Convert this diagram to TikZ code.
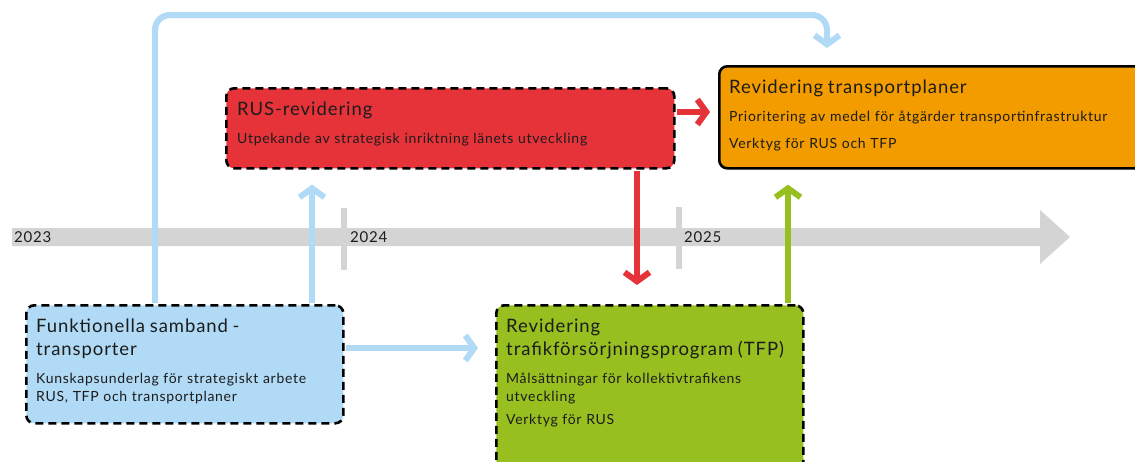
\documentclass[tikz,border=0pt]{standalone}
\usepackage{fontspec}
\setmainfont{Lato}[LetterSpace=5]
\usetikzlibrary{arrows.meta}
\definecolor{lblue}{RGB}{176,218,245}
\definecolor{rusred}{RGB}{230,51,58}
\definecolor{planorange}{RGB}{243,156,0}
\definecolor{tfpgreen}{RGB}{150,191,31}
\definecolor{tlgrey}{RGB}{212,212,212}
\definecolor{darktext}{RGB}{28,28,28}
\newcommand{\boxtitle}[1]{{\fontsize{18.5}{23}\selectfont #1\par}\vspace{10pt}}

\begin{document}
\begin{tikzpicture}[x=1pt,y=-1pt]
\tikzset{box/.style={rectangle, anchor=north west, inner sep=0pt, rounded corners=8pt, line width=2.6pt, draw=black, dash pattern=on 8pt off 5pt}}
\tikzset{boxtext/.style={anchor=base west, align=left, text width=420pt, inner sep=0pt, text=darktext, font=\fontsize{14}{18}\selectfont}}
\tikzset{conn/.style={line width=6pt, shorten <=1pt, -{Straight Barb[length=9pt,width=25pt]}}}
\tikzset{year/.style={anchor=west, inner sep=0pt, text=darktext, font=\fontsize{15}{18}\selectfont}}
\clip (0,0) rectangle (1135,461);
\fill[tlgrey] (12,228) -- (1040,228) -- (1040,210) -- (1070,237) -- (1040,264) -- (1040,246) -- (12,246) -- cycle;
\fill[tlgrey] (341,208) rectangle (347,270);
\fill[tlgrey] (676,207) rectangle (682,269);
\node[year] (y2023) at (14,237) {2023};
\node[year] (y2024) at (350,237) {2024};
\node[year] (y2025) at (684,237) {2025};

\node[box, fill=rusred, minimum width=448pt, minimum height=80pt] (rus) at (225,87) {};
\node[box, fill=planorange, solid, minimum width=440pt, minimum height=102pt] (plan) at (718,65) {};
\node[box, fill=lblue, minimum width=317pt, minimum height=118pt] (funk) at (25,304) {};
\node[box, fill=tfpgreen, minimum width=307pt, minimum height=180pt] (tfp) at (495,304) {};

\node[boxtext] (rustext) at (237,115) {\boxtitle{RUS-revidering}
Utpekande av strategisk inriktning länets utveckling};
\node[boxtext] (plantext) at (729,93) {\boxtitle{Revidering transportplaner}
Prioritering av medel för åtgärder transportinfrastruktur\par\vspace{9pt}
Verktyg för RUS och TFP};
\node[boxtext] (funktext) at (36,332) {\boxtitle{Funktionella samband -\\transporter}
Kunskapsunderlag för strategiskt arbete\\RUS, TFP och transportplaner};
\node[boxtext] (tfptext) at (506,332) {\boxtitle{Revidering\\trafikförsörjningsprogram (TFP)}
Målsättningar för kollektivtrafikens\\utveckling\par\vspace{5pt}
Verktyg för RUS};

\coordinate (loop) at (827,15);
\coordinate (col1) at (155,0);
\coordinate (col2) at (312,0);
\coordinate (col3) at (637,0);
\coordinate (col4) at (788,0);
\coordinate (row1) at (0,112);
\coordinate (row2) at (0,348);
\draw[conn, lblue, rounded corners=15pt, shorten >=17pt] (funk.north -| col1) |- (loop) -- (plan.north -| loop);
\draw[conn, lblue, shorten >=15pt] (funk.north -| col2) -- (rus.south -| col2);
\draw[conn, lblue, shorten >=17pt] (funk.east |- row2) -- (tfp.west |- row2);
\draw[conn, rusred, shorten >=8pt] (rus.east |- row1) -- (plan.west |- row1);
\draw[conn, rusred, shorten >=19pt] (rus.south -| col3) -- (tfp.north -| col3);
\draw[conn, tfpgreen, shorten >=15pt] (tfp.north -| col4) -- (plan.south -| col4);
\end{tikzpicture}
\end{document}
